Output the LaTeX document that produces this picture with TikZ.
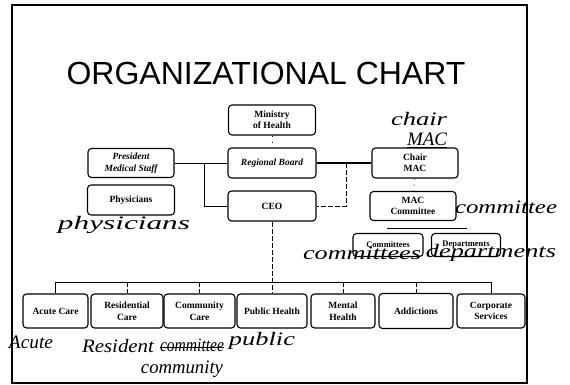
\documentclass[tikz,border=0pt]{standalone}
\usepackage{fontspec}
\setmainfont{Liberation Serif}
\newfontfamily\titlefont{Liberation Sans}
% handwritten note stretched to a given width
\newcommand\scrawl[2]{\resizebox{#1}{\height}{#2}}
\begin{document}
\begin{tikzpicture}[x=1pt,y=-1pt,
  unit/.style={draw, line width=1.1pt, rounded corners=3.5pt, inner sep=1pt,
    align=center, font=\bfseries\fontsize{9.5}{11.5}\selectfont},
  conn/.style={line width=0.9pt},
  broken/.style={line width=0.9pt, dash pattern=on 5pt off 2pt},
  faint/.style={line width=0.8pt, dash pattern=on 1pt off 5pt},
  hand/.style={font=\itshape\fontsize{19}{19}\selectfont, inner sep=0pt}]
\useasboundingbox (0,0) rectangle (570,385);
% slide frame
\draw[line width=1.4pt] (12,5) rectangle (527,383);
% title
\node[font=\titlefont\fontsize{32}{32}\selectfont] (title) at (266,73) {ORGANIZATIONAL CHART};

% upper part of the chart
\node[unit, minimum width=87pt, minimum height=30pt] (min) at (272,120) {Ministry\\of Health};
\node[unit, minimum width=86pt, minimum height=29pt] (pres) at (131,163) {\itshape President\\\itshape Medical Staff};
\node[unit, minimum width=87pt, minimum height=30pt] (phys) at (131,200) {Physicians};
\node[unit, minimum width=88pt, minimum height=30pt] (board) at (272,163) {\itshape Regional Board};
\node[unit, minimum width=88pt, minimum height=30pt] (ceo) at (272,206) {CEO};
\node[unit, minimum width=86pt, minimum height=30pt] (chair) at (415,163) {Chair\\MAC};
\node[unit, minimum width=86pt, minimum height=29pt] (maccom) at (413,206) {MAC\\Committee};
\node[unit, minimum width=70pt, minimum height=23pt, font=\bfseries\fontsize{8.5}{10}\selectfont] (comm) at (388,245) {Committees};
\node[unit, minimum width=69pt, minimum height=23pt, font=\bfseries\fontsize{8.5}{10}\selectfont] (dept) at (466,245) {Departments};

% service units
\node[unit, minimum width=65pt, minimum height=34pt] (acute) at (55.5,311) {Acute Care};
\node[unit, minimum width=72pt, minimum height=34pt] (res) at (127,311) {Residential\\Care};
\node[unit, minimum width=71pt, minimum height=34pt] (cc) at (199.5,311) {Community\\Care};
\node[unit, minimum width=70pt, minimum height=34pt] (ph) at (272,311) {Public Health};
\node[unit, minimum width=64pt, minimum height=34pt] (mh) at (343,311) {Mental\\Health};
\node[unit, minimum width=74pt, minimum height=35pt] (add) at (416,311) {Addictions};
\node[unit, minimum width=68pt, minimum height=34pt] (corp) at (491,311) {Corporate\\Services};

% junction points
\coordinate (jl) at (204,163);
\coordinate (jr) at (346,163);
\coordinate (bar) at (272,282);
\coordinate (cl) at (387,228);
\coordinate (cr) at (467,228);

% connectors
\draw[conn] (pres.east) -- (board.west);
\draw[conn] (jl) |- (ceo.west);
\draw[line width=1.5pt] (board.east) -- (chair.west);
\draw[broken] (jr) |- (ceo.east);
\draw[faint] (min.south) -- (board.north);
\draw[faint] (chair.south) -- (maccom.north);
\draw[conn] (cl) -- (cr);
\draw[broken] (ceo.south) -- (ph.north);
\draw[conn] (acute.north) -- (acute.north |- bar) -- (corp.north |- bar) -- (corp.north);
\foreach \u in {res,cc,mh,add}
  \draw[broken] (\u.north |- bar) -- (\u.north);

% handwritten notes
\node[hand] (nchair) at (419,119) {\scrawl{56pt}{chair}};
\node[hand] (nmac) at (427,140) {\scrawl{40pt}{\underline{MAC}}};
\node[hand] (nphys) at (124,225) {\scrawl{132pt}{physicians}};
\node[hand] (ncom) at (506,207) {\scrawl{102pt}{committee}};
\node[hand] (ncomm) at (362,253) {\scrawl{118pt}{committees}};
\node[hand] (ndept) at (491,253) {\scrawl{130pt}{departments}};
\node[hand] (nacute) at (31,342) {\scrawl{44pt}{Acute}};
\node[hand] (nres) at (118,346) {\scrawl{72pt}{Resident}};
\node[hand] (nstruck) at (192,345) {\scrawl{64pt}{committee}};
\draw[line width=0.9pt] ([yshift=-2pt]nstruck.west) -- ([yshift=-2pt]nstruck.east);
\node[hand] (npub) at (262,341) {\scrawl{66pt}{public}};
\node[hand] (ncty) at (182,369) {\scrawl{82pt}{community}};
\end{tikzpicture}
\end{document}
